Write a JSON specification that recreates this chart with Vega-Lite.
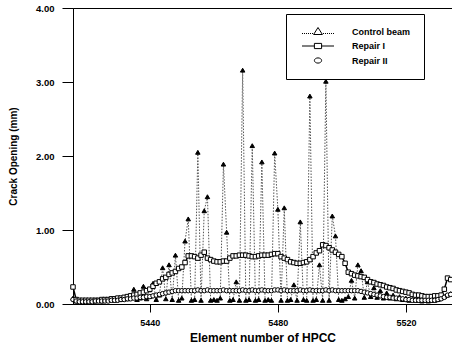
{
  "$schema": "https://vega.github.io/schema/vega-lite/v6.json",
  "width": 379,
  "height": 296,
  "autosize": {"type": "none"},
  "padding": {"left": 73, "top": 8, "right": 0, "bottom": 45},
  "background": "white",
  "config": {
    "font": "Liberation Sans",
    "view": {"stroke": "black", "strokeWidth": 1},
    "axis": {"grid": false, "domainColor": "black", "tickColor": "black", "labelColor": "black", "titleColor": "black", "labelFont": "Liberation Sans", "titleFont": "Liberation Sans", "labelFontWeight": "bold", "titleFontWeight": "bold"}
  },
  "data": {"values": [
    {"n":5416,"ctrl":0.08,"rep1":0.23,"rep2":0.06},
    {"n":5417,"ctrl":0.04,"rep1":0.06,"rep2":0.04},
    {"n":5418,"ctrl":0.03,"rep1":0.05,"rep2":0.03},
    {"n":5419,"ctrl":0.03,"rep1":0.05,"rep2":0.03},
    {"n":5420,"ctrl":0.04,"rep1":0.05,"rep2":0.03},
    {"n":5421,"ctrl":0.03,"rep1":0.05,"rep2":0.03},
    {"n":5422,"ctrl":0.04,"rep1":0.05,"rep2":0.03},
    {"n":5423,"ctrl":0.04,"rep1":0.05,"rep2":0.04},
    {"n":5424,"ctrl":0.05,"rep1":0.05,"rep2":0.04},
    {"n":5425,"ctrl":0.04,"rep1":0.06,"rep2":0.04},
    {"n":5426,"ctrl":0.05,"rep1":0.06,"rep2":0.04},
    {"n":5427,"ctrl":0.05,"rep1":0.06,"rep2":0.04},
    {"n":5428,"ctrl":0.06,"rep1":0.07,"rep2":0.05},
    {"n":5429,"ctrl":0.05,"rep1":0.07,"rep2":0.05},
    {"n":5430,"ctrl":0.07,"rep1":0.08,"rep2":0.05},
    {"n":5431,"ctrl":0.06,"rep1":0.08,"rep2":0.06},
    {"n":5432,"ctrl":0.08,"rep1":0.09,"rep2":0.06},
    {"n":5433,"ctrl":0.07,"rep1":0.10,"rep2":0.07},
    {"n":5434,"ctrl":0.09,"rep1":0.11,"rep2":0.07},
    {"n":5435,"ctrl":0.20,"rep1":0.12,"rep2":0.08},
    {"n":5436,"ctrl":0.06,"rep1":0.13,"rep2":0.08},
    {"n":5437,"ctrl":0.08,"rep1":0.15,"rep2":0.09},
    {"n":5438,"ctrl":0.24,"rep1":0.16,"rep2":0.09},
    {"n":5439,"ctrl":0.07,"rep1":0.18,"rep2":0.10},
    {"n":5440,"ctrl":0.10,"rep1":0.20,"rep2":0.10},
    {"n":5441,"ctrl":0.28,"rep1":0.24,"rep2":0.11},
    {"n":5442,"ctrl":0.06,"rep1":0.28,"rep2":0.12},
    {"n":5443,"ctrl":0.12,"rep1":0.30,"rep2":0.13},
    {"n":5444,"ctrl":0.49,"rep1":0.34,"rep2":0.14},
    {"n":5445,"ctrl":0.07,"rep1":0.36,"rep2":0.15},
    {"n":5446,"ctrl":0.53,"rep1":0.40,"rep2":0.16},
    {"n":5447,"ctrl":0.06,"rep1":0.42,"rep2":0.17},
    {"n":5448,"ctrl":0.66,"rep1":0.44,"rep2":0.18},
    {"n":5449,"ctrl":0.05,"rep1":0.48,"rep2":0.18},
    {"n":5450,"ctrl":0.08,"rep1":0.50,"rep2":0.18},
    {"n":5451,"ctrl":0.85,"rep1":0.56,"rep2":0.18},
    {"n":5452,"ctrl":1.15,"rep1":0.65,"rep2":0.18},
    {"n":5453,"ctrl":0.05,"rep1":0.65,"rep2":0.18},
    {"n":5454,"ctrl":0.06,"rep1":0.64,"rep2":0.18},
    {"n":5455,"ctrl":2.05,"rep1":0.62,"rep2":0.19},
    {"n":5456,"ctrl":0.05,"rep1":0.66,"rep2":0.18},
    {"n":5457,"ctrl":1.26,"rep1":0.70,"rep2":0.18},
    {"n":5458,"ctrl":1.45,"rep1":0.62,"rep2":0.19},
    {"n":5459,"ctrl":0.05,"rep1":0.60,"rep2":0.18},
    {"n":5460,"ctrl":0.06,"rep1":0.58,"rep2":0.18},
    {"n":5461,"ctrl":0.05,"rep1":0.57,"rep2":0.18},
    {"n":5462,"ctrl":0.08,"rep1":0.57,"rep2":0.18},
    {"n":5463,"ctrl":1.89,"rep1":0.58,"rep2":0.19},
    {"n":5464,"ctrl":0.97,"rep1":0.58,"rep2":0.18},
    {"n":5465,"ctrl":0.05,"rep1":0.62,"rep2":0.18},
    {"n":5466,"ctrl":0.06,"rep1":0.65,"rep2":0.18},
    {"n":5467,"ctrl":0.30,"rep1":0.65,"rep2":0.18},
    {"n":5468,"ctrl":0.05,"rep1":0.66,"rep2":0.18},
    {"n":5469,"ctrl":3.16,"rep1":0.66,"rep2":0.19},
    {"n":5470,"ctrl":0.05,"rep1":0.66,"rep2":0.18},
    {"n":5471,"ctrl":0.06,"rep1":0.65,"rep2":0.18},
    {"n":5472,"ctrl":2.14,"rep1":0.64,"rep2":0.19},
    {"n":5473,"ctrl":0.05,"rep1":0.64,"rep2":0.18},
    {"n":5474,"ctrl":0.06,"rep1":0.65,"rep2":0.18},
    {"n":5475,"ctrl":1.92,"rep1":0.66,"rep2":0.19},
    {"n":5476,"ctrl":0.05,"rep1":0.66,"rep2":0.18},
    {"n":5477,"ctrl":0.06,"rep1":0.66,"rep2":0.18},
    {"n":5478,"ctrl":0.05,"rep1":0.67,"rep2":0.18},
    {"n":5479,"ctrl":2.04,"rep1":0.68,"rep2":0.19},
    {"n":5480,"ctrl":1.28,"rep1":0.68,"rep2":0.19},
    {"n":5481,"ctrl":0.05,"rep1":0.64,"rep2":0.18},
    {"n":5482,"ctrl":1.30,"rep1":0.62,"rep2":0.19},
    {"n":5483,"ctrl":0.05,"rep1":0.60,"rep2":0.18},
    {"n":5484,"ctrl":0.06,"rep1":0.57,"rep2":0.18},
    {"n":5485,"ctrl":0.26,"rep1":0.56,"rep2":0.18},
    {"n":5486,"ctrl":0.05,"rep1":0.55,"rep2":0.18},
    {"n":5487,"ctrl":1.11,"rep1":0.55,"rep2":0.19},
    {"n":5488,"ctrl":0.06,"rep1":0.56,"rep2":0.18},
    {"n":5489,"ctrl":0.05,"rep1":0.57,"rep2":0.18},
    {"n":5490,"ctrl":2.81,"rep1":0.60,"rep2":0.19},
    {"n":5491,"ctrl":0.05,"rep1":0.64,"rep2":0.18},
    {"n":5492,"ctrl":0.06,"rep1":0.69,"rep2":0.18},
    {"n":5493,"ctrl":0.53,"rep1":0.72,"rep2":0.18},
    {"n":5494,"ctrl":0.05,"rep1":0.80,"rep2":0.18},
    {"n":5495,"ctrl":3.01,"rep1":0.79,"rep2":0.19},
    {"n":5496,"ctrl":0.05,"rep1":0.76,"rep2":0.18},
    {"n":5497,"ctrl":1.19,"rep1":0.73,"rep2":0.19},
    {"n":5498,"ctrl":0.92,"rep1":0.70,"rep2":0.18},
    {"n":5499,"ctrl":0.06,"rep1":0.67,"rep2":0.18},
    {"n":5500,"ctrl":0.05,"rep1":0.64,"rep2":0.18},
    {"n":5501,"ctrl":0.07,"rep1":0.55,"rep2":0.18},
    {"n":5502,"ctrl":0.10,"rep1":0.43,"rep2":0.18},
    {"n":5503,"ctrl":0.32,"rep1":0.41,"rep2":0.18},
    {"n":5504,"ctrl":0.08,"rep1":0.39,"rep2":0.18},
    {"n":5505,"ctrl":0.53,"rep1":0.38,"rep2":0.18},
    {"n":5506,"ctrl":0.45,"rep1":0.37,"rep2":0.17},
    {"n":5507,"ctrl":0.09,"rep1":0.36,"rep2":0.16},
    {"n":5508,"ctrl":0.30,"rep1":0.33,"rep2":0.15},
    {"n":5509,"ctrl":0.10,"rep1":0.30,"rep2":0.14},
    {"n":5510,"ctrl":0.22,"rep1":0.29,"rep2":0.13},
    {"n":5511,"ctrl":0.09,"rep1":0.27,"rep2":0.12},
    {"n":5512,"ctrl":0.18,"rep1":0.26,"rep2":0.11},
    {"n":5513,"ctrl":0.08,"rep1":0.25,"rep2":0.10},
    {"n":5514,"ctrl":0.15,"rep1":0.23,"rep2":0.09},
    {"n":5515,"ctrl":0.08,"rep1":0.22,"rep2":0.09},
    {"n":5516,"ctrl":0.12,"rep1":0.21,"rep2":0.08},
    {"n":5517,"ctrl":0.07,"rep1":0.19,"rep2":0.08},
    {"n":5518,"ctrl":0.10,"rep1":0.18,"rep2":0.07},
    {"n":5519,"ctrl":0.06,"rep1":0.17,"rep2":0.07},
    {"n":5520,"ctrl":0.08,"rep1":0.16,"rep2":0.06},
    {"n":5521,"ctrl":0.05,"rep1":0.15,"rep2":0.06},
    {"n":5522,"ctrl":0.06,"rep1":0.13,"rep2":0.05},
    {"n":5523,"ctrl":0.05,"rep1":0.12,"rep2":0.05},
    {"n":5524,"ctrl":0.05,"rep1":0.12,"rep2":0.05},
    {"n":5525,"ctrl":0.04,"rep1":0.11,"rep2":0.05},
    {"n":5526,"ctrl":0.05,"rep1":0.10,"rep2":0.05},
    {"n":5527,"ctrl":0.04,"rep1":0.10,"rep2":0.05},
    {"n":5528,"ctrl":0.05,"rep1":0.10,"rep2":0.05},
    {"n":5529,"ctrl":0.05,"rep1":0.11,"rep2":0.05},
    {"n":5530,"ctrl":0.06,"rep1":0.11,"rep2":0.06},
    {"n":5531,"ctrl":0.08,"rep1":0.12,"rep2":0.07},
    {"n":5532,"ctrl":0.10,"rep1":0.20,"rep2":0.09},
    {"n":5533,"ctrl":0.12,"rep1":0.35,"rep2":0.12},
    {"n":5534,"ctrl":0.14,"rep1":0.33,"rep2":0.13}
  ]},
  "transform": [{"fold": ["ctrl", "rep1", "rep2"], "as": ["series", "value"]}],
  "encoding": {
    "x": {"field": "n", "type": "quantitative", "scale": {"domain": [5416, 5534.4], "nice": false, "zero": false},
      "axis": {"values": [5440, 5480, 5520], "format": "d", "title": "Element number of HPCC", "tickSize": 8, "labelPadding": 6, "labelFontSize": 9, "titleFontSize": 12, "titlePadding": 5}},
    "y": {"field": "value", "type": "quantitative", "scale": {"domain": [0, 4], "nice": false},
      "axis": {"values": [0, 1, 2, 3, 4], "format": ".2f", "title": "Crack Opening (mm)", "tickSize": 11, "labelPadding": 8, "labelFontSize": 9.5, "titleFontSize": 10, "titlePadding": 17}}
  },
  "layer": [
    {"transform": [{"filter": "datum.series === 'ctrl'"}], "mark": {"type": "line", "color": "#555", "strokeWidth": 1, "strokeDash": [1.5, 1.5]}, "encoding": {}},
    {"transform": [{"filter": "datum.series === 'rep2'"}], "mark": {"type": "line", "color": "black", "strokeWidth": 1.2}, "encoding": {}},
    {"transform": [{"filter": "datum.series === 'rep1'"}], "mark": {"type": "line", "color": "black", "strokeWidth": 1.5}, "encoding": {}},
    {"mark": {"type": "point", "stroke": "black", "strokeWidth": 1, "size": 20, "opacity": 1},
      "encoding": {
        "fill": {"field": "series", "type": "nominal", "scale": {"domain": ["ctrl", "rep1", "rep2"], "range": ["black", "white", "white"]}, "legend": null},
        "shape": {"field": "series", "type": "nominal", "scale": {"domain": ["ctrl", "rep1", "rep2"], "range": ["triangle-up", "square", "circle"]}, "legend": null}
      }},
    {"transform": [{"filter": "datum.n < 0"}],
      "mark": {"type": "point", "stroke": "black", "strokeWidth": 1, "filled": false},
      "encoding": {
        "shape": {"field": "series", "type": "nominal",
          "scale": {"domain": ["ctrl", "rep1", "rep2"], "range": [
            "M-4,0.5h0.25M-3.5,0.5h0.25M-3,0.5h0.25M-2.5,0.5h0.25M-2,0.5h0.25M-1.5,0.5h0.25M1.25,0.5h0.25M1.75,0.5h0.25M2.25,0.5h0.25M2.75,0.5h0.25M3.25,0.5h0.25M3.75,0.5h0.25M-1.1,0.75L0,-1L1.1,0.75Z",
            "M-4,0H-0.9M0.9,0H4M-0.9,-0.65H0.9V0.65H-0.9Z",
            "M-0.9,0A0.9,0.65 0 1,0 0.9,0A0.9,0.65 0 1,0 -0.9,0Z"]},
          "legend": {"orient": "none", "legendX": 213, "legendY": 6, "title": null, "strokeColor": "black", "fillColor": "white", "padding": 13, "symbolSize": 64, "symbolOffset": 14.5, "labelOffset": 29.5, "rowPadding": 3.5, "symbolStrokeColor": "black", "symbolStrokeWidth": 1, "symbolOpacity": 1, "labelFont": "Liberation Sans", "labelFontSize": 9, "labelFontWeight": "bold", "labelColor": "black",
            "labelExpr": "datum.label === 'ctrl' ? 'Control beam' : datum.label === 'rep1' ? 'Repair I' : 'Repair II'"}}
      }}
  ],
  "resolve": {"scale": {"shape": "independent"}, "legend": {"shape": "independent"}}
}
